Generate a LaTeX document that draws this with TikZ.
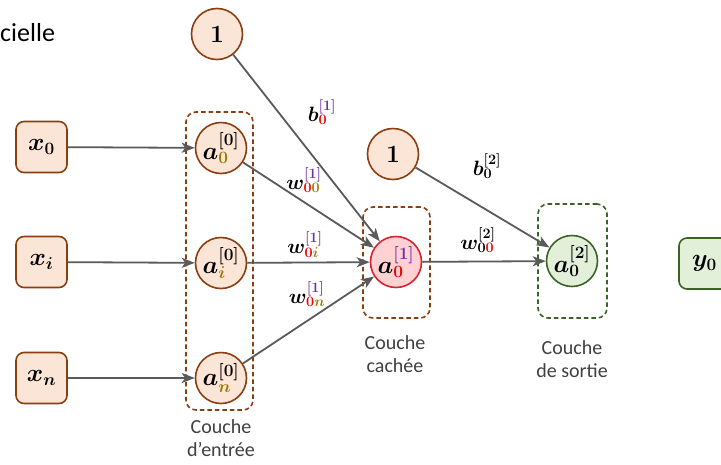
\documentclass[tikz,border=0pt]{standalone}
\usepackage[no-math]{fontspec}
\setmainfont{Carlito}
\usepackage{bm}
\usetikzlibrary{arrows.meta}
\definecolor{orfill}{HTML}{FBE5D6}
\definecolor{ordraw}{HTML}{8B3E10}
\definecolor{pkfill}{HTML}{FFD1D3}
\definecolor{pkdraw}{HTML}{D9232E}
\definecolor{grfill}{HTML}{E2F0D9}
\definecolor{grdraw}{HTML}{3B6326}
\definecolor{arrgray}{HTML}{5A5A5A}
\definecolor{purp}{HTML}{7030A0}
\definecolor{redd}{HTML}{F00000}
\definecolor{gold}{HTML}{9C7A00}
\definecolor{txtgray}{HTML}{404040}
\tikzset{
  mathfont/.style={font=\fontsize{23}{27}\selectfont\boldmath},
  inbox/.style={draw=ordraw, fill=orfill, line width=1.6pt, rounded corners=8pt,
    minimum width=51pt, minimum height=51pt, inner sep=0pt, mathfont},
  neuron/.style={circle, draw=ordraw, fill=orfill, line width=1.6pt,
    minimum size=51pt, inner sep=0pt, mathfont},
  hneuron/.style={neuron, draw=pkdraw, fill=pkfill},
  oneuron/.style={neuron, draw=grdraw, fill=grfill},
  outbox/.style={inbox, draw=grdraw, fill=grfill},
  layerbox/.style={draw=ordraw, line width=1.6pt, dash pattern=on 4.5pt off 3pt,
    rounded corners=10pt, inner sep=0pt},
  glayerbox/.style={layerbox, draw=grdraw},
  arr/.style={draw=arrgray, line width=1.8pt,
    -{Stealth[length=13pt, width=10pt, inset=3.5pt]}},
  wlabel/.style={inner sep=0pt, font=\fontsize{21.5}{25}\selectfont\boldmath},
  caption/.style={align=center, text=txtgray, font=\fontsize{20}{23}\selectfont, inner sep=0pt}
}
\begin{document}
\begin{tikzpicture}[x=1pt,y=-1pt]
\clip (0,0) rectangle (721,464);
\fill[white] (0,0) rectangle (721,464);

\node[anchor=west, inner sep=0pt, font=\fontsize{26}{30}\selectfont] (title) at (0,33) {cielle};

% layer boxes
\node[layerbox, minimum width=67pt, minimum height=298pt] (L0) at (219.5,261) {};
\node[layerbox, minimum width=67pt, minimum height=111pt] (L1) at (396.5,262.5) {};
\node[glayerbox, minimum width=69pt, minimum height=114pt] (L2) at (572.5,261) {};

% inputs
\node[inbox] (x0) at (41.5,147) {$x_{0}$};
\node[inbox] (xi) at (41.5,262) {$x_{i}$};
\node[inbox] (xn) at (41.5,378) {$x_{n}$};

% input layer
\node[neuron] (a00) at (221,148) {$a^{[0]}_{\textcolor{gold}{0}}$};
\node[neuron] (a0i) at (221,263) {$a^{[0]}_{\textcolor{gold}{i}}$};
\node[neuron] (a0n) at (221,378) {$a^{[0]}_{\textcolor{gold}{n}}$};

% bias nodes
\node[neuron] (one1) at (217,34) {$1$};
\node[neuron] (one2) at (393,154) {$1$};

% hidden
\node[hneuron] (h) at (396,262) {$a^{\textcolor{purp}{[1]}}_{\textcolor{redd}{0}}$};

% output
\node[oneuron] (o) at (572,261) {$a^{[2]}_{0}$};
\node[outbox] (y0) at (704.5,263.5) {$y_{0}$};

% connectors
\draw[arr] (x0) -- (a00);
\draw[arr] (xi) -- (a0i);
\draw[arr] (xn) -- (a0n);
\draw[arr] (one1) -- (h);
\draw[arr] (a00) -- (h);
\draw[arr] (a0i) -- (h);
\draw[arr] (a0n) -- (h);
\draw[arr] (h) -- (o);
\draw[arr] (one2) -- (o);

% weight labels
\node[wlabel] (lb1) at (322,112) {$b^{\textcolor{purp}{[1]}}_{\textcolor{redd}{0}}$};
\node[wlabel] (lw00) at (304,180) {$w^{\textcolor{purp}{[1]}}_{\textcolor{redd}{0}\textcolor{gold}{0}}$};
\node[wlabel] (lw0i) at (305,245) {$w^{\textcolor{purp}{[1]}}_{\textcolor{redd}{0}\textcolor{gold}{i}}$};
\node[wlabel] (lw0n) at (307,294) {$w^{\textcolor{purp}{[1]}}_{\textcolor{redd}{0}\textcolor{gold}{n}}$};
\node[wlabel] (lb2) at (487,166) {$b^{[2]}_{0}$};
\node[wlabel] (lw2) at (478,240) {$w^{[2]}_{0\textcolor{redd}{0}}$};

% captions
\node[caption] (c0) at (221,438) {Couche\\d’entrée};
\node[caption] (c1) at (395,354) {Couche\\cachée};
\node[caption] (c2) at (572,359) {Couche\\de sortie};
\end{tikzpicture}
\end{document}
